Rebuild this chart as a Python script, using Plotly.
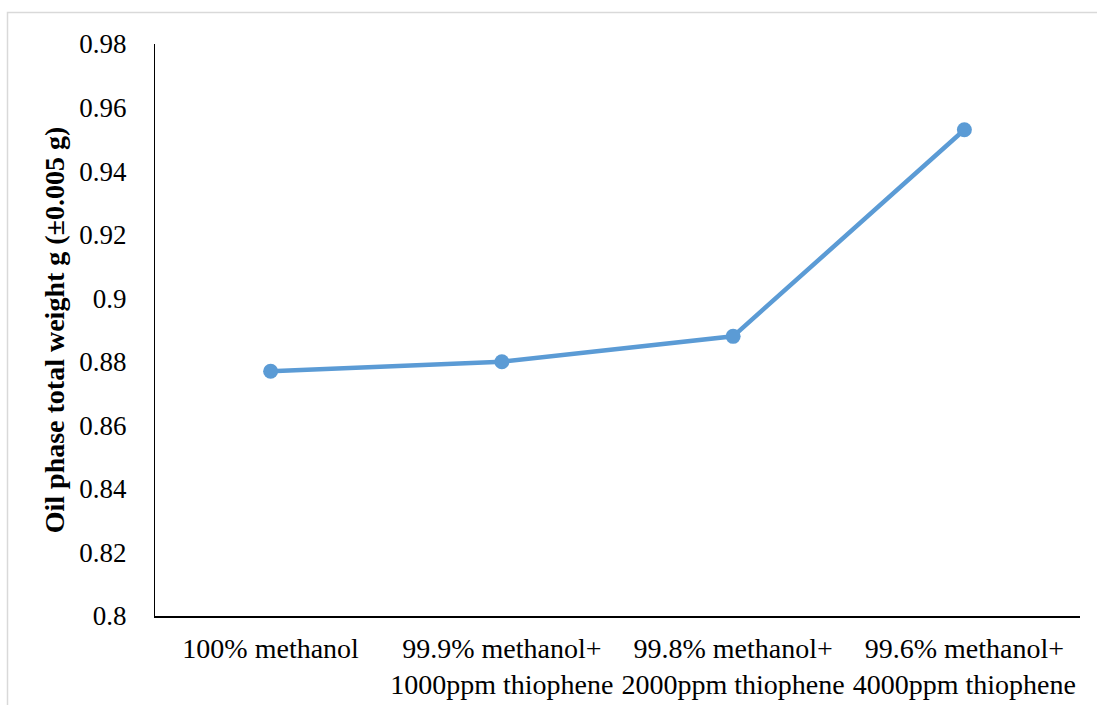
import plotly.graph_objects as go

categories = [
    "100% methanol",
    "99.9% methanol+<br>1000ppm thiophene",
    "99.8% methanol+<br>2000ppm thiophene",
    "99.6% methanol+<br>4000ppm thiophene",
]
oil_weight = [0.877, 0.880, 0.888, 0.953]
y_ticks = [0.8, 0.82, 0.84, 0.86, 0.88, 0.9, 0.92, 0.94, 0.96, 0.98]
y_tick_text = ["0.8", "0.82", "0.84", "0.86", "0.88", "0.9", "0.92", "0.94", "0.96", "0.98"]

FONT = "Liberation Serif, Times New Roman, serif"
BLUE = "#5B9BD5"

W, H = 1097, 705
L, R, T, B = 155, 17, 44, 89
pw, ph = W - L - R, H - T - B

fig = go.Figure()
fig.add_trace(go.Scatter(
    x=list(range(len(categories))),
    y=oil_weight,
    mode="lines+markers",
    line=dict(color=BLUE, width=4.5),
    marker=dict(color=BLUE, size=15),
    showlegend=False,
))

# outer chart border (top and left edges visible)
fig.add_shape(
    type="rect", xref="paper", yref="paper",
    x0=(7.5 - L) / pw, x1=1 + (R + 20) / pw,
    y0=-(B + 20) / ph, y1=1 + (T - 12.5) / ph,
    line=dict(color="#D9D9D9", width=1.5), fillcolor="rgba(0,0,0,0)",
    layer="below",
)

fig.update_layout(
    width=W, height=H,
    margin=dict(l=L, r=R, t=T, b=B),
    paper_bgcolor="white", plot_bgcolor="white",
    font=dict(family=FONT, size=26, color="black"),
    xaxis=dict(
        range=[-0.5, 3.5],
        tickmode="array",
        tickvals=list(range(len(categories))),
        ticktext=categories,
        showgrid=False, zeroline=False,
        showline=True, linecolor="black", linewidth=2,
        ticks="", tickfont=dict(family=FONT, size=28, color="black"),
        ticklabelstandoff=6,
        automargin=False,
    ),
    yaxis=dict(
        range=[0.8, 0.98],
        tickmode="array",
        tickvals=y_ticks,
        ticktext=y_tick_text,
        showgrid=False, zeroline=False,
        showline=True, linecolor="black", linewidth=1,
        ticks="", tickfont=dict(family=FONT, size=27, color="black"),
        ticklabelstandoff=22,
        automargin=False,
        title=dict(
            text="<b>Oil phase total weight g (±0.005 g)</b>",
            font=dict(family=FONT, size=28, color="black"), standoff=6,
        ),
    ),
)

fig.write_html("out.html")
